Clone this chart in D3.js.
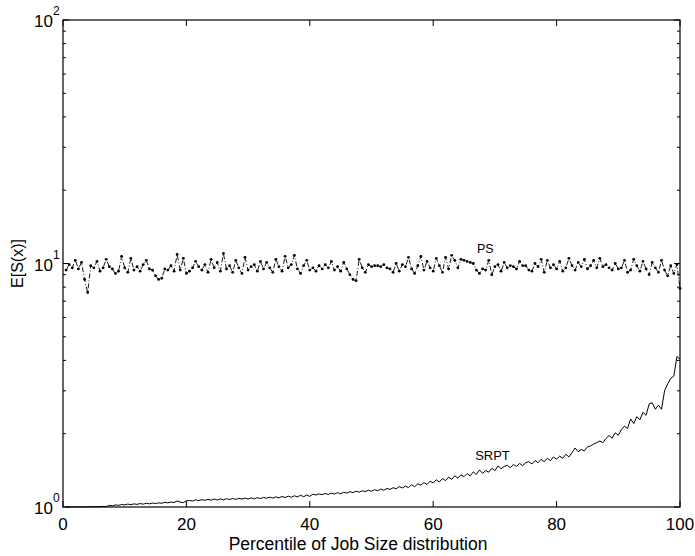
<!DOCTYPE html>
<html>
<head>
    <title></title>
    <style>
        body { margin: 0; background: #fff; }
        text { font-family: "Liberation Sans", Arial, sans-serif; fill: #000; }
    </style>
</head>
<body>
<div id="container"></div>

<script src="https://d3js.org/d3.v7.min.js" type="text/javascript"></script>
<script type="text/javascript">
    // percentile points, every 0.5 from 0.5 to 100
    const pct = d3.range(1, 201).map(i => i * 0.5);

    const psValues = [
        9.4, 9.9, 9.6, 10.3, 9.5, 10.1, 8.6, 7.6, 9.8, 9.6,
        10.2, 9.3, 9.6, 10.4, 9.7, 9.5, 9.1, 9.3, 10.7, 9.6,
        9.2, 10.5, 9.4, 9.7, 9.3, 9.9, 10.3, 9.5, 9.4, 8.9,
        8.6, 8.7, 9.5, 9.4, 9.8, 9.3, 10.9, 9.4, 10.5, 9.1,
        9.3, 9.6, 10.2, 9.7, 9.4, 9.9, 9.2, 10.4, 9.6, 10.1,
        9.3, 11.0, 9.5, 9.8, 9.2, 10.3, 9.6, 9.1, 10.6, 9.4,
        9.7, 9.9, 9.3, 10.2, 9.5, 10.1, 9.6, 9.2, 10.4, 9.7,
        9.3, 10.7, 9.6, 9.9, 10.8, 9.5, 9.1, 9.8, 10.3, 9.4,
        9.6, 9.3, 9.8, 9.5, 9.9, 9.6, 10.2, 9.4, 9.7, 9.3,
        10.1, 9.5, 9.0, 8.6, 8.5, 10.4, 9.6, 9.2, 9.9, 9.7,
        9.8, 9.8, 9.7, 9.9, 9.6, 9.5, 9.2, 10.0, 9.3, 9.9,
        9.7, 10.6, 9.5, 9.1, 9.8, 10.7, 9.4, 10.2, 9.6, 9.3,
        10.5, 9.8, 9.2, 10.6, 9.5, 10.8, 10.3, 9.6, 10.4, 10.3,
        10.2, 10.1, 10.0, 9.4, 9.1, 9.5, 9.4, 10.3, 9.0, 9.7,
        9.9, 9.3, 10.1, 9.6, 9.8, 9.7, 9.5, 10.2, 9.8, 9.8,
        9.4, 9.3, 10.0, 9.7, 10.4, 9.2, 10.3, 9.6, 9.9, 9.5,
        10.2, 9.3, 9.6, 10.5, 9.8, 9.4, 10.1, 9.7, 10.4, 9.5,
        9.8, 10.3, 9.6, 10.5, 9.7, 9.9, 9.6, 9.4, 10.0, 9.5,
        9.6, 10.3, 9.2, 9.4, 10.4, 9.8, 9.3, 10.2, 9.5, 9.0,
        10.1, 9.6, 9.2, 10.3, 9.4, 8.9, 9.8, 9.1, 9.9, 7.9
    ];

    const srptValues = [
        1.000, 1.001, 1.000, 1.002, 1.001, 1.000, 1.002, 1.001, 1.003, 1.002,
        1.004, 1.003, 1.006, 1.004, 1.015, 1.012, 1.020, 1.016, 1.024, 1.020,
        1.028, 1.022, 1.030, 1.025, 1.033, 1.027, 1.036, 1.030, 1.038, 1.033,
        1.040, 1.036, 1.045, 1.040, 1.048, 1.044, 1.058, 1.047, 1.042, 1.060,
        1.064, 1.058, 1.070, 1.062, 1.072, 1.065, 1.075, 1.066, 1.078, 1.068,
        1.080, 1.070, 1.082, 1.073, 1.084, 1.074, 1.086, 1.077, 1.088, 1.078,
        1.090, 1.080, 1.092, 1.083, 1.095, 1.086, 1.098, 1.088, 1.100, 1.091,
        1.104, 1.094, 1.108, 1.097, 1.112, 1.100, 1.118, 1.102, 1.120, 1.106,
        1.128, 1.120, 1.132, 1.124, 1.136, 1.126, 1.140, 1.130, 1.145, 1.134,
        1.150, 1.140, 1.156, 1.145, 1.162, 1.150, 1.166, 1.156, 1.172, 1.160,
        1.178, 1.166, 1.185, 1.172, 1.192, 1.180, 1.200, 1.188, 1.212, 1.198,
        1.218, 1.202, 1.234, 1.212, 1.246, 1.228, 1.260, 1.238, 1.276, 1.256,
        1.294, 1.266, 1.308, 1.284, 1.326, 1.298, 1.344, 1.314, 1.356, 1.332,
        1.372, 1.342, 1.394, 1.360, 1.420, 1.375, 1.410, 1.390, 1.442, 1.410,
        1.475, 1.436, 1.466, 1.482, 1.452, 1.494, 1.468, 1.510, 1.480, 1.520,
        1.536, 1.502, 1.552, 1.520, 1.570, 1.535, 1.586, 1.550, 1.604, 1.572,
        1.618, 1.586, 1.646, 1.606, 1.672, 1.748, 1.686, 1.724, 1.700, 1.766,
        1.782, 1.814, 1.838, 1.866, 1.838, 1.910, 1.966, 1.918, 2.016, 1.972,
        2.080, 2.150, 2.100, 2.300, 2.200, 2.350, 2.280, 2.450, 2.380, 2.650,
        2.680, 2.520, 2.620, 2.520, 3.000, 3.200, 3.380, 3.450, 4.150, 4.050
    ];

    const xTicks = [0, 20, 40, 60, 80, 100];
    const yTicks = [1, 10, 100];
    const yExps = ['0', '1', '2'];
    const minorTicks = [2, 3, 4, 5, 6, 7, 8, 9, 20, 30, 40, 50, 60, 70, 80, 90];

    const w = 695, h = 556;
    const margin = { left: 63, right: 15, top: 20, bottom: 49 };

    const svg = d3.select('#container')
        .append('svg')
        .attr('width', w)
        .attr('height', h);

    const x = d3.scaleLinear().domain([0, 100]).range([margin.left, w - margin.right]);
    const y = d3.scaleLog().domain([1, 100]).range([h - margin.bottom, margin.top]);

    const x0 = x.range()[0], x1 = x.range()[1];
    const y0 = y.range()[0], y1 = y.range()[1];

    // inward ticks on all four sides
    const tk = svg.append('g').attr('stroke', '#000').attr('stroke-width', 1);
    xTicks.forEach(t => {
        tk.append('line').attr('x1', x(t)).attr('x2', x(t)).attr('y1', y0).attr('y2', y0 - 6);
        tk.append('line').attr('x1', x(t)).attr('x2', x(t)).attr('y1', y1).attr('y2', y1 + 6);
    });
    yTicks.forEach(t => {
        tk.append('line').attr('x1', x0).attr('x2', x0 + 6).attr('y1', y(t)).attr('y2', y(t));
        tk.append('line').attr('x1', x1).attr('x2', x1 - 6).attr('y1', y(t)).attr('y2', y(t));
    });
    minorTicks.forEach(t => {
        tk.append('line').attr('x1', x0).attr('x2', x0 + 3).attr('y1', y(t)).attr('y2', y(t));
        tk.append('line').attr('x1', x1).attr('x2', x1 - 3).attr('y1', y(t)).attr('y2', y(t));
    });

    // tick labels
    xTicks.forEach(t => {
        svg.append('text')
            .attr('x', x(t)).attr('y', y0 + 23)
            .attr('text-anchor', 'middle')
            .style('font-size', '17px')
            .text(t);
    });
    yTicks.forEach((t, i) => {
        svg.append('text')
            .attr('x', 53).attr('y', y(t) + 7)
            .attr('text-anchor', 'end')
            .style('font-size', '17px')
            .text('10');
        svg.append('text')
            .attr('x', 53).attr('y', y(t) - 5)
            .style('font-size', '12px')
            .text(yExps[i]);
    });

    // series
    const line = d3.line().x((d, i) => x(pct[i])).y(d => y(d));

    svg.append('path')
        .datum(srptValues)
        .attr('d', line)
        .attr('fill', 'none')
        .attr('stroke', '#000')
        .attr('stroke-width', 1);

    svg.append('path')
        .datum(psValues)
        .attr('d', line)
        .attr('fill', 'none')
        .attr('stroke', '#000')
        .attr('stroke-width', 0.9)
        .attr('stroke-dasharray', '5,2,1,2');

    svg.append('g').selectAll('circle')
        .data(psValues)
        .join('circle')
        .attr('cx', (d, i) => x(pct[i]))
        .attr('cy', d => y(d))
        .attr('r', 1.4)
        .attr('fill', '#000');

    // frame
    svg.append('rect')
        .attr('x', x0).attr('y', y1)
        .attr('width', x1 - x0).attr('height', y0 - y1)
        .attr('fill', 'none')
        .attr('stroke', '#000')
        .attr('stroke-width', 1.2);

    // curve labels
    svg.append('text').attr('x', x(67.1)).attr('y', y(11.0)).style('font-size', '12.5px').text('PS');
    svg.append('text').attr('x', x(66.8)).attr('y', y(1.56)).style('font-size', '13px').text('SRPT');

    // axis titles
    svg.append('text')
        .attr('x', 358).attr('y', 550)
        .attr('text-anchor', 'middle')
        .style('font-size', '17.5px')
        .text('Percentile of Job Size distribution');

    svg.append('text')
        .attr('transform', `translate(23, ${y(10)}) rotate(-90)`)
        .attr('text-anchor', 'middle')
        .style('font-size', '16px')
        .text('E[S(x)]');
</script>
</body>
</html>
